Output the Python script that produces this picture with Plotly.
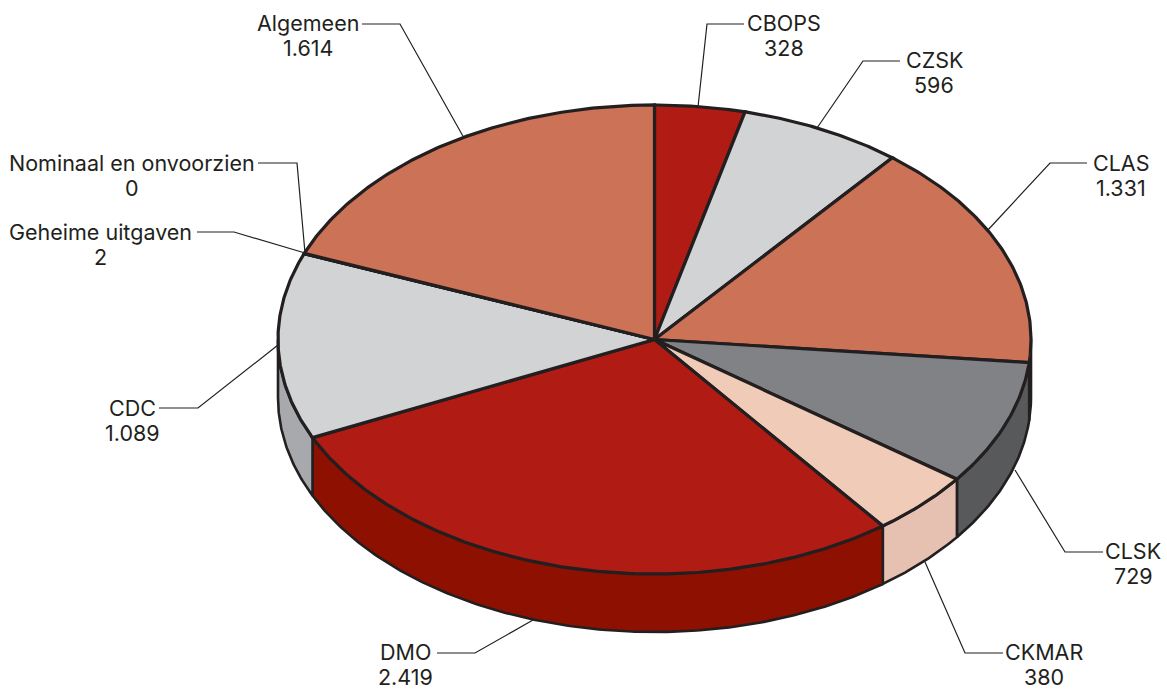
import numpy as np
import plotly.graph_objects as go

# --- data ---
names = ["CBOPS", "CZSK", "CLAS", "CLSK", "CKMAR", "DMO", "CDC",
         "Geheime uitgaven", "Nominaal en onvoorzien", "Algemeen"]
values = [328, 596, 1331, 729, 380, 2419, 1089, 2, 0, 1614]

# --- style ---
top_colors = ["#B01C14", "#D1D3D4", "#CC7357", "#808285", "#EFCBB8",
              "#B01C14", "#D1D3D4", "#CC7357", "#CC7357", "#CC7357"]
side_colors = ["#8E1000", "#A7A9AC", "#A85A42", "#58595B", "#E6C0B0",
               "#8E1000", "#A7A9AC", "#A85A42", "#A85A42", "#A85A42"]
INK = "#231F20"
FONT = "Inter"
FONT_SIZE = 21.5
W, H = 1167, 697
CX, CY, RX, RY, DEPTH = 654.5, 339.5, 376.5, 234.5, 58

# --- label layout (pixel positions on the hidden page axes) ---
label_centres = [(784, 23), (934, 60), (1121, 163), (1133, 551), (1044, 652),
                 (405, 652), (132, 408), (100, 232), (132, 163), (308, 23)]
value_offset = 25
leaders = [
    [(744, 24), (707, 24), (698, 107)],
    [(900, 61), (863, 61), (817, 128)],
    [(1087, 163), (1050, 163), (987, 231)],
    [(1103, 552), (1065, 552), (1015, 470)],
    [(1003, 653), (965, 653), (925, 562)],
    [(437, 653), (475, 653), (533, 620)],
    [(159, 408), (198, 408), (278, 345)],
    [(197, 232), (234, 232), (305, 253)],
    [(258, 163), (297, 163), (305, 253)],
    [(362, 24), (400, 24), (464, 138)],
]


def rim(a0, a1, dy=0.0):
    n = max(2, int(abs(a1 - a0) * 2) + 2)
    t = np.radians(np.linspace(a0, a1, n))
    return CX + RX * np.sin(t), CY - RY * np.cos(t) + dy


def fmt(v):
    return f"{v:,}".replace(",", ".")


total = sum(values)
edges = np.concatenate([[0.0], np.cumsum(values) / total * 360.0])

fig = go.Figure()

# leader lines sit under the pie
for path in leaders:
    fig.add_trace(go.Scatter(
        x=[p[0] for p in path], y=[p[1] for p in path], mode="lines",
        line=dict(color=INK, width=1.2), hoverinfo="skip"))

# side walls: only the front half of the rim shows
for i, name in enumerate(names):
    a0, a1 = max(edges[i], 90.0), min(edges[i + 1], 270.0)
    if a1 <= a0:
        continue
    xt, yt = rim(a0, a1)
    xb, yb = rim(a1, a0, DEPTH)
    fig.add_trace(go.Scatter(
        x=np.concatenate([xt, xb, xt[:1]]), y=np.concatenate([yt, yb, yt[:1]]),
        mode="lines", fill="toself", fillcolor=side_colors[i],
        line=dict(color=INK, width=2.6), name=name, hoverinfo="skip"))

# top faces
for i, name in enumerate(names):
    xr, yr = rim(edges[i], edges[i + 1])
    fig.add_trace(go.Scatter(
        x=np.concatenate([[CX], xr, [CX]]), y=np.concatenate([[CY], yr, [CY]]),
        mode="lines", fill="toself", fillcolor=top_colors[i],
        line=dict(color=INK, width=3.2), name=name,
        text=f"{name}: {fmt(values[i])}", hoverinfo="text"))

annotations = []
for name, v, (lx, ly) in zip(names, values, label_centres):
    for txt, yy in ((name, ly), (fmt(v), ly + value_offset)):
        annotations.append(dict(
            x=lx, y=yy, xref="x", yref="y", text=txt, showarrow=False,
            xanchor="center", yanchor="middle",
            font=dict(family=FONT, size=FONT_SIZE, color=INK)))

fig.update_layout(
    width=W, height=H, margin=dict(l=0, r=0, t=0, b=0),
    paper_bgcolor="white", plot_bgcolor="white", showlegend=False,
    annotations=annotations,
    xaxis=dict(range=[0, W], visible=False, fixedrange=True),
    yaxis=dict(range=[H, 0], visible=False, fixedrange=True),
)
fig.write_html("out.html", config=dict(displayModeBar=False),
               post_script="document.body.style.margin='0';")
